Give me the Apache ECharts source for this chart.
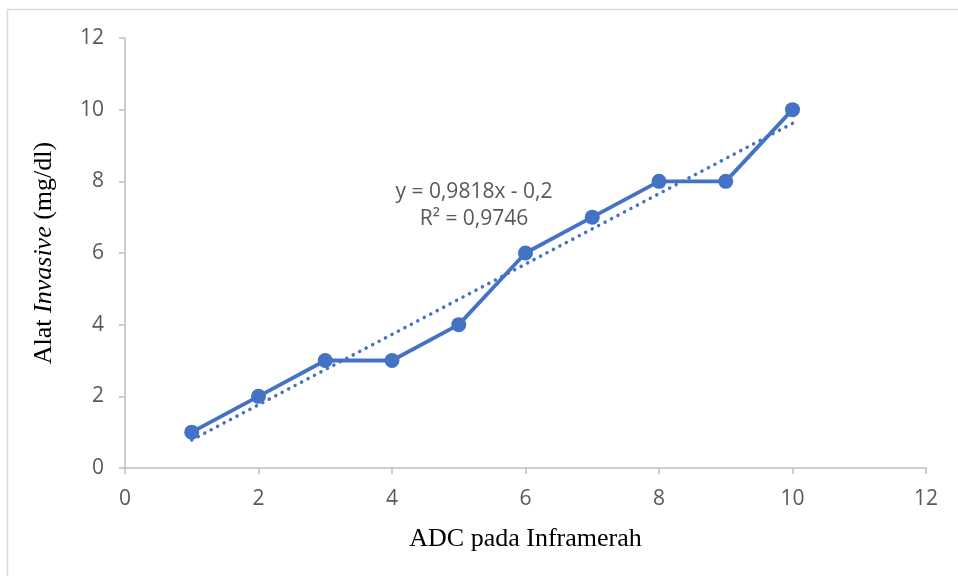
<!DOCTYPE html>
<html>
<head>
<meta charset="utf-8">
<script src="https://cdn.jsdelivr.net/npm/echarts@6/dist/echarts.min.js"></script>
<style>html,body{margin:0;padding:0;background:#fff}#c{width:958px;height:576px}</style>
</head>
<body>
<div id="c"></div>
<script>
const xValues = [1, 2, 3, 4, 5, 6, 7, 8, 9, 10];
const yValues = [1, 2, 3, 3, 4, 6, 7, 8, 8, 10];
const trendSlope = 0.9818;
const trendIntercept = -0.2;
const trendXRange = [1, 10];
const equationLines = ['y = 0,9818x - 0,2', 'R² = 0,9746'];
const xAxisTitle = 'ADC pada Inframerah';

const seriesData = xValues.map((x, i) => [x, yValues[i]]);
const trendData = trendXRange.map(x => [x, trendSlope * x + trendIntercept]);

const chart = echarts.init(document.getElementById('c'), null, {renderer: 'canvas'});
const axisColor = '#bfbfbf';
const labelColor = '#595959';
const tickFont = "'Open Sans', sans-serif";
chart.setOption({
  animation: false,
  grid: {left: 125, right: 32, top: 38, bottom: 108, containLabel: false},
  xAxis: {
    type: 'value', min: 0, max: 12, interval: 2,
    splitLine: {show: false},
    axisLine: {show: true, onZero: false, lineStyle: {color: axisColor, width: 1.5}},
    axisTick: {show: true, length: 6, lineStyle: {color: axisColor, width: 1.5}},
    axisLabel: {color: labelColor, fontSize: 21, fontFamily: tickFont, margin: 21},
    name: xAxisTitle, nameLocation: 'middle', nameGap: 58,
    nameTextStyle: {color: '#000', fontSize: 26, fontFamily: "'Liberation Serif', 'Times New Roman', serif"}
  },
  yAxis: {
    type: 'value', min: 0, max: 12, interval: 2,
    splitLine: {show: false},
    axisLine: {show: true, onZero: false, lineStyle: {color: axisColor, width: 1.5}},
    axisTick: {show: true, length: 6, lineStyle: {color: axisColor, width: 1.5}},
    axisLabel: {color: labelColor, fontSize: 21, fontFamily: tickFont, margin: 21},
    name: '{a|Alat }{b|Invasive}{a| (mg/dl)}', nameLocation: 'middle', nameGap: 68, nameRotate: 90,
    nameTextStyle: {
      color: '#000', fontSize: 26, fontFamily: "'Liberation Serif', 'Times New Roman', serif",
      rich: {
        a: {color: '#000', fontSize: 26, fontFamily: "'Liberation Serif', serif"},
        b: {color: '#000', fontSize: 26, fontStyle: 'italic', fontFamily: "'Liberation Serif', serif"}
      }
    }
  },
  series: [
    {
      type: 'line', data: trendData, symbol: 'none', z: 1,
      lineStyle: {color: '#4472C4', width: 3.5, type: [0.1, 7.2], cap: 'round'}
    },
    {
      type: 'line', data: seriesData, symbol: 'circle', symbolSize: 15, z: 2,
      itemStyle: {color: '#4472C4'},
      lineStyle: {color: '#4472C4', width: 3.8}
    }
  ],
  graphic: [
    {type: 'rect', shape: {x: 7.5, y: 9.5, width: 1000, height: 1000}, style: {fill: 'none', stroke: '#d9d9d9', lineWidth: 1.5}, silent: true},
    {type: 'text', x: 474, y: 179, style: {text: equationLines.join('\n'), align: 'center', verticalAlign: 'top', fill: labelColor, font: "21px 'Open Sans', sans-serif", lineHeight: 27}, silent: true}
  ]
});
</script>
</body>
</html>
